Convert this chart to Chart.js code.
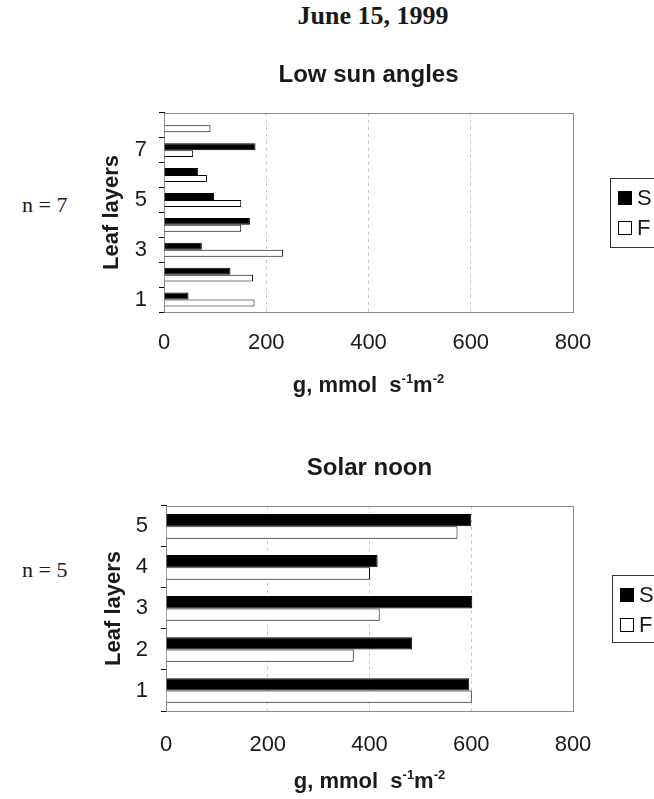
<!DOCTYPE html>
<html>
<head>
<meta charset="utf-8">
<script src="https://cdn.jsdelivr.net/npm/chart.js@4.4.1/dist/chart.umd.min.js"></script>
<style>
  html, body { margin: 0; padding: 0; background: #fff; }
  #page { position: relative; width: 654px; height: 799px; overflow: hidden; }
  .serif { position: absolute; font-family: 'Liberation Serif', 'Times New Roman', serif; color: #1a1a1a; white-space: nowrap; }
  #date { left: 373px; top: 3px; transform: translateX(-50%); font-weight: bold; font-size: 26px; line-height: 26px; }
  .n { font-size: 22px; line-height: 22px; }
  canvas { position: absolute; left: 0; }
</style>
</head>
<body>
<div id="page">
  <div id="date" class="serif">June 15, 1999</div>
  <div class="serif n" style="left:22px; top:194px;">n = 7</div>
  <div class="serif n" style="left:22px; top:559px;">n = 5</div>
  <canvas id="lowSun" width="654" height="380" style="top:40px"></canvas>
  <canvas id="noon" width="654" height="369" style="top:430px"></canvas>
</div>
<script>
// stomatal conductance per leaf layer, layer 1 at the bottom
const gTicks = [0, 200, 400, 600, 800];

const lowSunLayers = ['1', '2', '3', '4', '5', '6', '7', '8'];
const lowSunTickLabels = ['1', '', '3', '', '5', '', '7', ''];
const lowSunS = [48, 130, 74, 168, 98, 67, 179, null];
const lowSunF = [177, 174, 233, 151, 151, 84, 57, 91];

const noonLayers = ['1', '2', '3', '4', '5'];
const noonTickLabels = ['1', '2', '3', '4', '5'];
const noonS = [596, 484, 602, 416, 600];
const noonF = [601, 369, 420, 401, 573];

const SANS = "'Liberation Sans', Arial, sans-serif";
const INK = '#1a1a1a';

// grey frame round the plot area (top and right sides show)
const plotFrame = {
  id: 'plotFrame',
  beforeDatasetsDraw(chart) {
    const { ctx, chartArea: a } = chart;
    ctx.save();
    ctx.strokeStyle = '#8a8a8a';
    ctx.lineWidth = 1;
    ctx.strokeRect(Math.round(a.left) + 0.5, Math.round(a.top) + 0.5,
      Math.round(a.right - a.left), Math.round(a.bottom - a.top));
    ctx.restore();
  }
};

// axis titles, the x one has superscript units
const axisTitles = {
  id: 'axisTitles',
  afterDraw(chart, args, o) {
    const { ctx, chartArea: a } = chart;
    ctx.save();
    ctx.fillStyle = INK;
    ctx.textBaseline = 'alphabetic';
    const big = 'bold 22px ' + SANS, small = 'bold 13px ' + SANS;
    const parts = [['g, mmol  s', big, 0], ['-1', small, 9], ['m', big, 0], ['-2', small, 9]];
    let total = 0;
    parts.forEach(p => { ctx.font = p[1]; total += ctx.measureText(p[0]).width; });
    let x = (a.left + a.right) / 2 - total / 2;
    const y = a.bottom + o.xBaseline;
    parts.forEach(p => {
      ctx.font = p[1];
      ctx.textAlign = 'left';
      ctx.fillText(p[0], x, y - p[2]);
      x += ctx.measureText(p[0]).width;
    });
    ctx.font = big;
    ctx.translate(o.yBaseline, (a.top + a.bottom) / 2);
    ctx.rotate(-Math.PI / 2);
    ctx.textAlign = 'center';
    ctx.fillText('Leaf layers', 0, 0);
    ctx.restore();
  }
};

// boxed legend at the right edge
const legendBox = {
  id: 'legendBox',
  afterDraw(chart, args, o) {
    const { ctx } = chart;
    ctx.save();
    ctx.strokeStyle = '#333';
    ctx.lineWidth = 1;
    ctx.strokeRect(o.x + 0.5, o.y + 0.5, 90, o.h);
    ctx.font = '22px ' + SANS;
    ctx.textBaseline = 'middle';
    ctx.textAlign = 'left';
    chart.data.datasets.forEach((ds, i) => {
      const cy = o.y + o.rows[i];
      ctx.fillStyle = ds.backgroundColor;
      ctx.fillRect(o.x + 8, cy - 7, 14, 14);
      ctx.strokeStyle = '#000';
      ctx.strokeRect(o.x + 8.5, cy - 6.5, 13, 13);
      ctx.fillStyle = INK;
      ctx.fillText(ds.label, o.x + 27, cy + 1);
    });
    ctx.restore();
  }
};

function layerChart(id, title, layers, tickLabels, sVals, fVals, g) {
  return new Chart(document.getElementById(id), {
    type: 'bar',
    data: {
      labels: layers,
      datasets: [
        { label: 'S', data: sVals, backgroundColor: '#000', borderColor: '#000', borderWidth: 1 },
        { label: 'F', data: fVals, backgroundColor: '#fff', borderColor: '#000', borderWidth: 1 }
      ]
    },
    options: {
      indexAxis: 'y',
      responsive: false,
      animation: false,
      categoryPercentage: g.catPct,
      barPercentage: 1,
      layout: { padding: { left: 0, right: 81, top: 0, bottom: 0 } },
      scales: {
        x: {
          min: 0,
          max: 800,
          afterBuildTicks: s => { s.ticks = gTicks.map(v => ({ value: v })); },
          afterFit: s => { s.height = g.xHeight; },
          grid: {
            drawTicks: false,
            color: c => (c.tick && c.tick.value > 0 && c.tick.value < 800) ? '#c4c4c4' : 'rgba(0,0,0,0)',
            lineWidth: 1
          },
          // dash applies to the grid lines, the axis line stays solid
          border: { display: true, color: '#555', dash: [3, 4] },
          ticks: { padding: g.xPad, color: INK, font: { family: SANS, size: 22 } }
        },
        y: {
          reverse: true,
          afterFit: s => { s.width = g.yWidth; },
          grid: { drawOnChartArea: false, drawTicks: true, tickLength: 5, color: '#000' },
          border: { display: true, color: '#000' },
          ticks: {
            padding: g.yPad,
            color: INK,
            font: { family: SANS, size: 22 },
            autoSkip: false,
            callback: (v, i) => tickLabels[i]
          }
        }
      },
      plugins: {
        legend: { display: false },
        tooltip: { enabled: false },
        title: {
          display: true,
          fullSize: false,
          text: title,
          color: INK,
          font: { family: SANS, size: 24, weight: 'bold', lineHeight: 1.2 },
          padding: { top: g.tTop, bottom: g.tBottom }
        },
        axisTitles: { xBaseline: g.xTitle, yBaseline: g.yTitle },
        legendBox: { x: g.legX, y: g.legY, h: g.legH, rows: [20, 50] }
      }
    },
    plugins: [plotFrame, axisTitles, legendBox]
  });
}

layerChart('lowSun', 'Low sun angles', lowSunLayers, lowSunTickLabels, lowSunS, lowSunF, {
  catPct: 0.56, xHeight: 108, xPad: 18, yWidth: 164, yPad: 12,
  tTop: 21, tBottom: 23, xTitle: 80, yTitle: 118,
  legX: 610, legY: 138, legH: 69
});

layerChart('noon', 'Solar noon', noonLayers, noonTickLabels, noonS, noonF, {
  catPct: 0.6, xHeight: 88, xPad: 21, yWidth: 166, yPad: 13,
  tTop: 24, tBottom: 23, xTitle: 77, yTitle: 120,
  legX: 612, legY: 145, legH: 67
});
</script>
</body>
</html>
